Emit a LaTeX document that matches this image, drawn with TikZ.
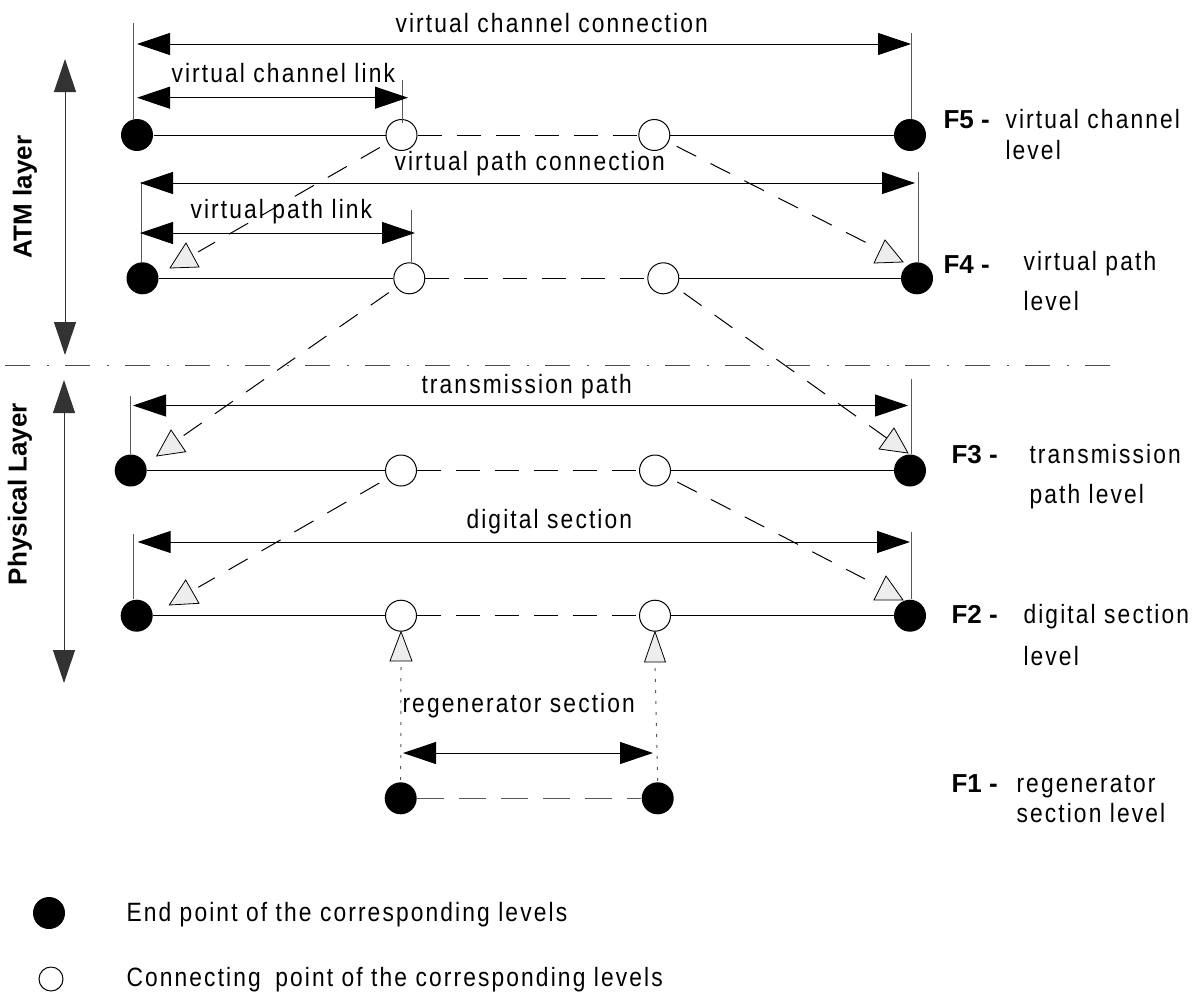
\documentclass[tikz,border=0pt]{standalone}
\usepackage{fontspec}
\setmainfont{Liberation Sans}
\newfontfamily\labfont{Liberation Sans}[FakeStretch=0.86, LetterSpace=8]
\usetikzlibrary{arrows.meta}

\begin{document}
\begin{tikzpicture}[x=1pt, y=-1pt, line width=1pt,
  endpt/.style={circle, fill=black, minimum size=32pt, inner sep=0pt},
  conpt/.style={circle, draw=black, fill=white, minimum size=31pt, inner sep=0pt},
  dimline/.style={draw=black, arrows={Triangle[length=33pt,width=22pt]-Triangle[length=33pt,width=22pt]}},
  vtick/.style={draw=black!65},
  midgap/.style={draw=black, dash pattern=on 24pt off 15pt},
  crossline/.style={draw=black, dash pattern=on 22pt off 16pt, shorten <=9pt},
  dotline/.style={draw=black!65, dash pattern=on 3pt off 8pt},
  marker/.style={draw=black, fill=black!7, line width=0.8pt, line join=miter},
  lab/.style={anchor=base west, inner sep=0pt, font=\labfont\fontsize{26.5}{30}\selectfont},
  flab/.style={anchor=base west, inner sep=0pt, font=\fontsize{26}{30}\selectfont\bfseries},
]
\useasboundingbox (0,0) rectangle (1194,996);

% ---------- level points ----------
\node[endpt] (f5L) at (137,135) {};
\node[conpt] (f5a) at (401.5,135) {};
\node[conpt] (f5b) at (654.3,135) {};
\node[endpt] (f5R) at (910,135) {};

\node[endpt] (f4L) at (142.5,278.3) {};
\node[conpt] (f4a) at (409.3,278.3) {};
\node[conpt] (f4b) at (663.3,278.3) {};
\node[endpt] (f4R) at (917,278.3) {};

\node[endpt] (f3L) at (130.7,470.5) {};
\node[conpt] (f3a) at (401,470.5) {};
\node[conpt] (f3b) at (655,470.5) {};
\node[endpt] (f3R) at (910,470.5) {};

\node[endpt] (f2L) at (136.7,615.7) {};
\node[conpt] (f2a) at (401,615.7) {};
\node[conpt] (f2b) at (655,615.7) {};
\node[endpt] (f2R) at (910,615.7) {};

\node[endpt] (f1L) at (400.7,798.3) {};
\node[endpt] (f1R) at (657.7,798.3) {};

% ---------- level lines ----------
\foreach \l in {5,4,3,2}{
  \draw (f\l L) -- (f\l a);
  \draw[midgap] (f\l a) -- (f\l b);
  \draw (f\l b) -- (f\l R);
}
\draw[draw=black!65, dash pattern=on 27pt off 15pt] (f1L) -- (f1R);

% ---------- extent ticks ----------
\coordinate (k5L) at (133,23);   \draw[vtick] (k5L) -- (k5L |- f5L.north);
\coordinate (k5R) at (911,33);   \draw[vtick] (k5R) -- (k5R |- f5R.north);
\coordinate (k5a) at (402.7,80); \draw[vtick] (k5a) -- (402.7,123);
\coordinate (k4L) at (141,182);  \draw[vtick] (k4L) -- (k4L |- f4L.north);
\coordinate (k4R) at (918,172);  \draw[vtick] (k4R) -- (k4R |- f4R.north);
\coordinate (k4a) at (411,210);  \draw[vtick] (k4a) -- (k4a |- f4a.north);
\coordinate (k3L) at (130,396);  \draw[vtick] (k3L) -- (k3L |- f3L.north);
\coordinate (k3R) at (911,379);  \draw[vtick] (k3R) -- (k3R |- f3R.north);
\coordinate (k2L) at (133.7,534);\draw[vtick] (k2L) -- (k2L |- f2L.north);
\coordinate (k2R) at (911,532);  \draw[vtick] (k2R) -- (k2R |- f2R.north);

% ---------- extent arrows ----------
\coordinate (vccL) at (137,44);   \coordinate (vccR) at (911,44);
\coordinate (vclL) at (137,97.7); \coordinate (vclR) at (408,97.7);
\coordinate (vpcL) at (140,183);  \coordinate (vpcR) at (915,183);
\coordinate (vplL) at (140,233);  \coordinate (vplR) at (415,233);
\coordinate (tpL)  at (133,405.5);\coordinate (tpR)  at (908,405.5);
\coordinate (dsL)  at (137.7,542);\coordinate (dsR)  at (910,542);
\coordinate (rsL)  at (403,753);  \coordinate (rsR)  at (653,753);
\foreach \a in {vcc,vcl,vpc,vpl,tp,ds,rs}{
  \draw[dimline] (\a L) -- (\a R);
}

% ---------- flow markers ----------
\draw[marker] (186,243) -- (199,267) -- (170,268) -- cycle;
\coordinate (m4L) at (198,252);
\draw[marker] (885,240) -- (903,262) -- (874,263) -- cycle;
\coordinate (m4R) at (867,243);
\draw[marker] (171,430) -- (185.7,451.7) -- (156.7,456) -- cycle;
\coordinate (m3L) at (183,436);
\draw[marker] (894,428) -- (908,453) -- (879,449) -- cycle;
\coordinate (m3R) at (888,439);
\draw[marker] (185.7,580) -- (199,603.3) -- (169.3,605) -- cycle;
\coordinate (m2L) at (198.3,587.3);
\draw[marker] (886,576) -- (903,600) -- (874,600) -- cycle;
\coordinate (m2R) at (865,579);
\draw[marker] (f2a.south) -- (412,661) -- (390,661) -- cycle;
\coordinate (u2a) at (401,667);
\draw[marker] (f2b.south) -- (665.5,662) -- (644.5,662) -- cycle;
\coordinate (u2b) at (655,668);

% ---------- cross-level links ----------
\draw[crossline] (f5a) -- (m4L);
\draw[crossline] (f5b) -- (m4R);
\draw[crossline] (f4a) -- (m3L);
\draw[crossline] (f4b) -- (m3R);
\draw[crossline] (f3a) -- (m2L);
\draw[crossline] (f3b) -- (m2R);
\draw[dotline] (u2a) -- (f1L.north);
\draw[dotline] (u2b) -- (f1R.north);

% ---------- layer split ----------
\coordinate (splitL) at (5,365); \coordinate (splitR) at (1120,365);
\draw[draw=black!70, dash pattern=on 25pt off 17pt on 2pt off 16pt] (splitL) -- (splitR);
\coordinate (atmT) at (65,59);  \coordinate (atmB) at (65,355);
\draw[dimline, draw=black!80] (atmT) -- (atmB);
\coordinate (phyT) at (64,380); \coordinate (phyB) at (64,683);
\draw[dimline, draw=black!80] (phyT) -- (phyB);
\node[flab, anchor=center, rotate=90] (tatm) at (25,197) {ATM layer};
\node[flab, anchor=center, rotate=90] (tphy) at (20,494) {Physical Layer};

% ---------- extent labels ----------
\node[lab] (tvcc) at (395,32)  {virtual channel connection};
\node[lab] (tvcl) at (171,82)  {virtual channel link};
\node[lab] (tvpc) at (394,170) {virtual path connection};
\node[lab] (tvpl) at (190,218) {virtual path link};
\node[lab] (ttp)  at (421,393) {transmission path};
\node[lab] (tds)  at (466,528) {digital section};
\node[lab] (trs)  at (402,712) {regenerator section};

% ---------- level names ----------
\node[flab] (n5) at (943,128) {F5 -};
\node[lab]  at (1005,128) {virtual channel};
\node[lab]  at (1005,159) {level};
\node[flab] (n4) at (943,273) {F4 -};
\node[lab]  at (1023,270) {virtual path};
\node[lab]  at (1023,310) {level};
\node[flab] (n3) at (951,463) {F3 -};
\node[lab]  at (1029,463) {transmission};
\node[lab]  at (1029,503) {path level};
\node[flab] (n2) at (951,623) {F2 -};
\node[lab]  at (1023,623) {digital section};
\node[lab]  at (1023,665) {level};
\node[flab] (n1) at (951,792) {F1 -};
\node[lab]  at (1016,792) {regenerator};
\node[lab]  at (1016,822) {section level};

% ---------- key ----------
\node[endpt] (keyE) at (49,913) {};
\node[conpt, minimum size=24pt] (keyC) at (51,979) {};
\node[lab] (tkeyE) at (126,921.7) {End point of the corresponding levels};
\node[lab] (tkeyC) at (126,986.7) {Connecting\hspace{6pt} point of the corresponding levels};
\end{tikzpicture}
\end{document}
